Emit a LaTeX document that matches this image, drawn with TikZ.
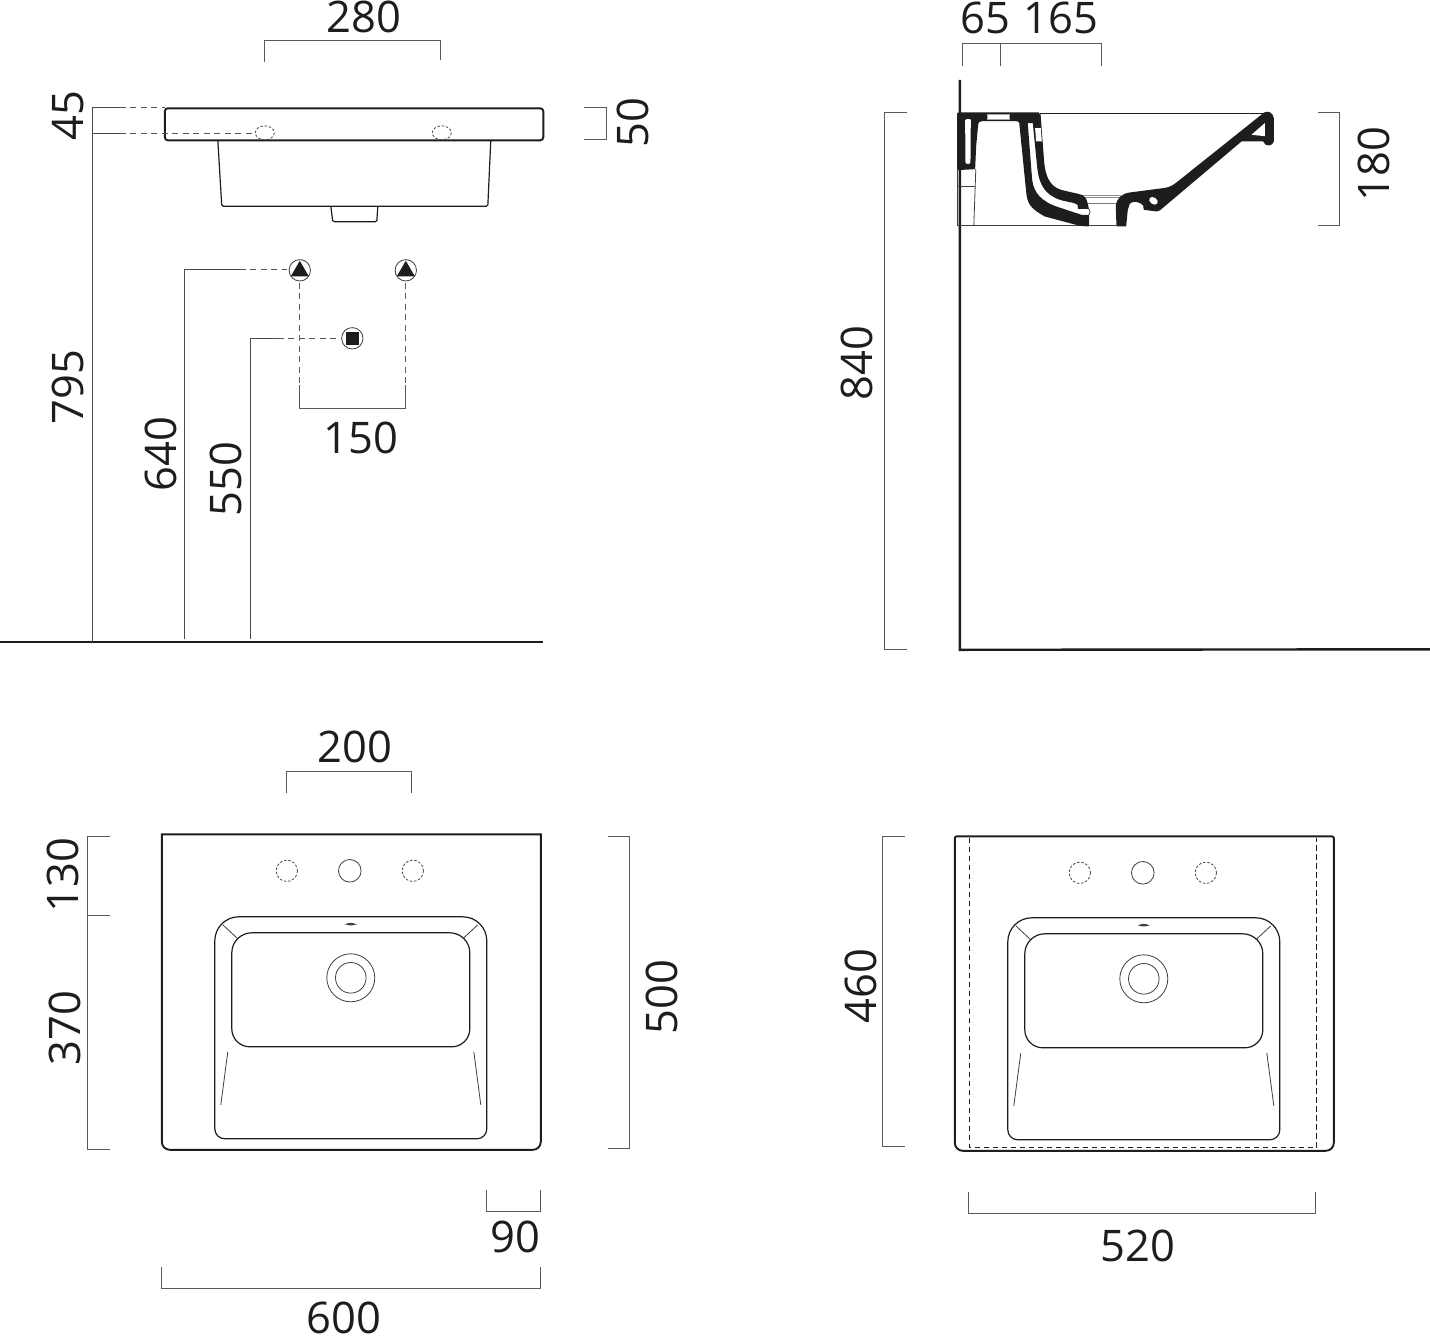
\documentclass[tikz,border=0pt]{standalone}
\usepackage{fontspec}
\setmainfont{Open Sans}
\definecolor{ink}{HTML}{1D1D1B}
\definecolor{dimg}{HTML}{5A5A5A}
\tikzset{
  x=1pt,y=-1pt,
  dimtext/.style={text=ink,inner sep=0pt,xshift=1pt,yshift=-0.6pt,font=\fontsize{43.5}{44}\selectfont},
  dimv/.style={dimtext,rotate=90,yshift=1pt},
  dimline/.style={draw=dimg,line width=0.8pt},
  lead/.style={draw=ink!80,line width=0.9pt},
  dashlead/.style={draw=ink!75,line width=0.9pt,dash pattern=on 6pt off 4.5pt},
  heavy/.style={draw=ink,line width=1.9pt},
  body/.style={draw=ink,line width=1.2pt},
  thin/.style={draw=ink!85,line width=0.8pt},
  hole/.style={draw=ink!80,line width=0.8pt,dash pattern=on 2.5pt off 1.8pt},
}
\newcommand{\basin}[2]{%
 \begin{scope}[shift={(#1,#2)}]
  \draw[body] (0,122) [rounded corners=10pt] -- (0,222) -- (272,222) [rounded corners=24pt] -- (272,0) -- (0,0) -- cycle;
  \draw[body] (17,65) [rounded corners=20pt] -- (17,16) -- (255,16) -- (255,65) [rounded corners=18pt] -- (255,130) -- (17,130) -- cycle;
  \draw[thin] (8,8) -- (23,22) (263,8) -- (248,22);
  \draw[thin] (13,135) -- (6,188) (259,135) -- (266,188);
  \fill[ink!85] (130,7.5) .. controls (136,5.5) .. (142,7.5) .. controls (136,9) .. cycle;
  \draw[thin] (136,61) circle (24);
  \draw[thin] (136,61) circle (15.3);
 \end{scope}}
\begin{document}
\begin{tikzpicture}
\useasboundingbox (0,0) rectangle (1430,1336);
\fill[white] (0,0) rectangle (1430,1336);
\begin{scope}[shift={(-0.2,-0.2)}]

% ---------- front elevation ----------
\draw[heavy,line width=2pt] (0,642.5) -- (543,642.5);
\draw[heavy,rounded corners=3pt] (165,108.5) rectangle (543.5,140.5);
\draw[body,rounded corners=1.5pt] (218,140) -- (222,206.5) -- (488,206.5) -- (491,140);
\draw[body,rounded corners=1.5pt] (331,206.5) -- (333,222) -- (377,222) -- (378,206.5);
\draw[hole] (265,133) ellipse (9.5 and 7);
\draw[hole] (442,133) ellipse (9.5 and 7);
\draw[lead] (93,642) -- (93,108) -- (120,108);
\draw[dashlead] (120,108) -- (165,108);
\draw[lead] (93,134) -- (120,134);
\draw[dashlead] (120,134) -- (254,134);
\draw[dimline] (584,108) -- (607,108) -- (607,140) -- (584,140);
\draw[dimline] (265,62) -- (265,41) -- (441,41) -- (441,60);

\draw[lead] (185,639) -- (185,270) -- (240,270);
\draw[dashlead] (240,270) -- (287,270);
\draw[lead] (251,639) -- (251,339) -- (278,339);
\draw[dashlead] (278,339) -- (340,339);
\draw[dashlead,draw=dimg] (300,283) -- (300,385);
\draw[dashlead,draw=dimg] (406,283) -- (406,385);
\draw[dimline,line width=1pt] (300,385) -- (300,409) -- (406,409) -- (406,385);

\draw[thin] (300,270.5) circle (10.7);
\draw[thin] (406,270.5) circle (10.7);
\draw[thin] (352.5,338.5) circle (10.7);
\fill[ink] (300,261) -- (309,276.5) -- (291,276.5) -- cycle;
\fill[ink] (406,261) -- (415,276.5) -- (397,276.5) -- cycle;
\fill[ink] (346,332) rectangle (359,345);

\node[dimtext] (t280) at (363,17) {280};
\node[dimv] (t45) at (68,115) {45};
\node[dimv] (t50) at (633,122) {50};
\node[dimv] (t795) at (68,387) {795};
\node[dimv] (t640) at (161,454) {640};
\node[dimv] (t550) at (226,479) {550};
\node[dimtext] (t150) at (360,438) {150};

% ---------- section ----------
\draw[heavy,line width=2.4pt] (960,80) -- (960,650) -- (1430,649.5);
\begin{scope}[shift={(950,90)},scale=1/3]
  \draw[body,line width=1.4pt] (270,71) -- (950,71);
  \draw[thin,line width=1pt] (24,240) -- (24,408) -- (500,408);
  \draw[thin] (78,238) -- (72,408);
  \draw[thin] (24,290) -- (76,290);
  \draw[thin,draw=ink!50] (395,317) -- (515,317) (398,322) -- (510,322);
  \draw[thin,draw=ink!60] (415,340) -- (500,340);
  \draw[thin] (417,357) .. controls (422,365) .. (417,375) -- (417,408);
  % top plate and left wall
  \fill[ink] (22,72) .. controls (22,69) .. (28,68) -- (268,68) -- (274,100) -- (232,100) -- (208,100)
    .. controls (206,95) .. (198,94) -- (98,94) .. controls (88,95) .. (85,105)
    -- (79,170) -- (76,238) -- (24,241) .. controls (22,241) .. (22,238) -- cycle;
  \fill[white] (46,92) .. controls (46,88) .. (50,88) -- (58,88) .. controls (63,88) .. (63,93)
    -- (62,216) .. controls (61,222) .. (55,222) .. controls (48,222) .. (47,216) -- cycle;
  \fill[white] (113,72) rectangle (178,88);
  \draw[draw=ink!40,line width=0.4pt] (113,72) rectangle (178,88);
  % lower (outer) arm
  \fill[ink] (208,96) -- (233,90) -- (247,270)
    .. controls (252,310) and (275,335) .. (325,352)
    -- (395,375) -- (417,375) -- (417,410) -- (390,408) -- (285,380)
    .. controls (240,355) and (232,340) .. (229,305) -- cycle;
  % upper (inner) arm
  \fill[ink] (248,90) -- (272,70) -- (283,215)
    .. controls (288,270) and (305,295) .. (345,303)
    -- (385,312) .. controls (405,315) and (412,325) .. (417,357)
    -- (385,357) -- (383,345) .. controls (375,340) .. (350,335)
    .. controls (300,325) and (268,300) .. (262,230) -- cycle;
  \fill[white] (256,115) -- (273,115) -- (276,155) -- (259,155) -- cycle;
  % right rim
  \fill[ink] (500,410) -- (498,350)
    .. controls (500,325) and (515,312) .. (540,308)
    -- (640,295) .. controls (655,293) and (665,290) .. (680,278)
    -- (943,68) .. controls (955,62) and (970,68) .. (972,85) -- (972,155)
    .. controls (970,170) and (945,172) .. (940,155) -- (875,155) -- (630,362) -- (620,365) -- (582,360)
    -- (580,347) .. controls (570,335) and (548,332) .. (540,342) -- (534,360) -- (529,410) -- cycle;
  \fill[white] (945,100) -- (905,135) -- (945,139) -- cycle;
  \fill[white,rotate around={-35:(611,333)}] (611,333) ellipse (14 and 10);
\end{scope}
\draw[dimline] (963,66) -- (963,44) -- (1102,44) -- (1102,66);
\draw[dimline] (1001,44) -- (1001,66);
\draw[dimline] (1318,113) -- (1340,113) -- (1340,226) -- (1318,226);
\draw[dimline] (907,113) -- (885,113) -- (885,650) -- (907,650);
\node[dimtext] (t65) at (985,18) {65};
\node[dimtext] (t165) at (1060,18) {165};
\node[dimv] (t180) at (1374,164) {180};
\node[dimv] (t840) at (857,363) {840};

% ---------- plan, left ----------
\draw[heavy] (162,834.5) [rounded corners=8pt] -- (162,1150) -- (541,1150) [sharp corners] -- (541,834.5) -- cycle;
\basin{215}{917}
\draw[hole] (287,871) circle (10.7);
\draw[thin] (350,871) circle (11.3);
\draw[hole] (413,871) circle (10.7);
\draw[dimline] (287,793) -- (287,772) -- (412,772) -- (412,793);
\draw[dimline] (110,837) -- (88,837) -- (88,1150) -- (110,1150);
\draw[dimline] (88,916) -- (110,916);
\draw[dimline] (608,837) -- (630,837) -- (630,1149) -- (608,1149);
\draw[dimline] (487,1190) -- (487,1212) -- (541,1212) -- (541,1190);
\draw[dimline] (162,1267) -- (162,1289) -- (541,1289) -- (541,1267);
\node[dimtext] (t200) at (354,747) {200};
\node[dimv] (t130) at (63,875) {130};
\node[dimv] (t370) at (65,1028) {370};
\node[dimv] (t500) at (662,997) {500};
\node[dimtext] (t90) at (515,1237) {90};
\node[dimtext] (t600) at (343,1317.5) {600};

% ---------- plan, right ----------
\draw[heavy] (1145,836.5) [rounded corners=2pt] -- (955,836.5) [rounded corners=8pt] -- (955,1151) -- (1334,1151) [rounded corners=2pt] -- (1334,836.5) -- cycle;
\draw[draw=ink,line width=1.1pt,dash pattern=on 5.5pt off 3.5pt] (970,838) -- (970,1148) -- (1317,1148) -- (1317,838);
\basin{1008}{918}
\draw[hole] (1080,873) circle (10.7);
\draw[thin] (1143,873) circle (11.3);
\draw[hole] (1206,873) circle (10.7);
\draw[dimline] (905,837) -- (883,837) -- (883,1147) -- (905,1147);
\draw[dimline] (969,1192) -- (969,1214) -- (1316,1214) -- (1316,1192);
\node[dimv] (t460) at (861,986) {460};
\node[dimtext] (t520) at (1137,1246) {520};
\end{scope}
\end{tikzpicture}
\end{document}
